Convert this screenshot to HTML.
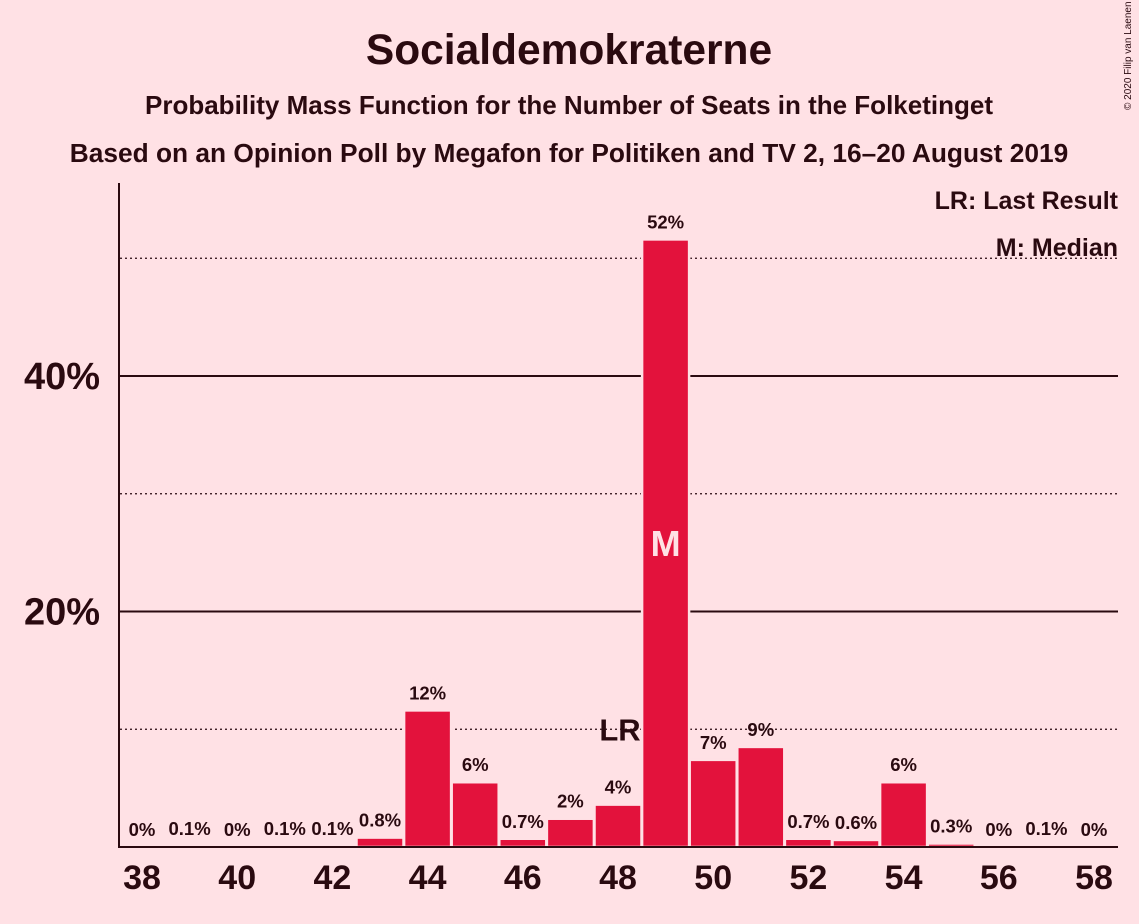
<!DOCTYPE html>
<html><head><meta charset="utf-8"><style>
body{margin:0;background:#ffe1e5;}
svg{display:block;font-family:"Liberation Sans",sans-serif;}
</style></head><body>
<svg id="chart" width="1139" height="924">
<rect width="1139" height="924" fill="#ffe1e5"/>
<text x="569" y="64" text-anchor="middle" font-size="42.5" font-weight="bold" fill="#2a0a10">Socialdemokraterne</text>
<text x="569" y="114" text-anchor="middle" font-size="26" font-weight="bold" fill="#2a0a10">Probability Mass Function for the Number of Seats in the Folketinget</text>
<text x="569" y="162" text-anchor="middle" font-size="26.3" font-weight="bold" fill="#2a0a10">Based on an Opinion Poll by Megafon for Politiken and TV 2, 16–20 August 2019</text>
<text x="1131" y="110" font-size="10" fill="#2a0a10" transform="rotate(-90 1131 110)">© 2020 Filip van Laenen</text>
<g id="grid"></g>
<g id="bars"></g>
<g id="axes"></g>
<text x="1118" y="209" text-anchor="end" font-size="25" font-weight="bold" fill="#2a0a10">LR: Last Result</text>
<text x="1118" y="256" text-anchor="end" font-size="25" font-weight="bold" fill="#2a0a10">M: Median</text>
</svg>
<script>
const seats=[38,39,40,41,42,43,44,45,46,47,48,49,50,51,52,53,54,55,56,57,58];
const probs=[0,0.1,0,0.1,0.1,0.8,11.6,5.5,0.7,2.4,3.6,51.6,7.4,8.5,0.7,0.6,5.5,0.3,0,0.1,0];
const valueLabels=["0%","0.1%","0%","0.1%","0.1%","0.8%","12%","6%","0.7%","2%","4%","52%","7%","9%","0.7%","0.6%","6%","0.3%","0%","0.1%","0%"];
const xTicks=[38,40,42,44,46,48,50,52,54,56,58];
const yTicks=[20,40];
const yMinor=[10,30,50];
const lastResult=48, median=49;
const NS="http://www.w3.org/2000/svg";
const x=s=>142+(s-38)*47.6;
const y=p=>847-p*11.775;
function mk(t,a,parent,txt){const e=document.createElementNS(NS,t);for(const k in a)e.setAttribute(k,a[k]);if(txt!==undefined)e.textContent=txt;parent.appendChild(e);return e;}
const grid=document.getElementById('grid'),bars=document.getElementById('bars'),axes=document.getElementById('axes');
yMinor.forEach(v=>{const l=mk('line',{x1:120,x2:1118,y1:y(v),y2:y(v),stroke:'#2a0a10','stroke-width':1.3,'stroke-dasharray':'2,3'},grid);

});
yTicks.forEach(v=>{const l=mk('line',{x1:120,x2:1118,y1:y(v),y2:y(v),stroke:'#2a0a10','stroke-width':2},grid);


const t=mk('text',{x:100,y:y(v)+13,'text-anchor':'end','font-size':38,'font-weight':'bold',fill:'#2a0a10'},axes,v+'%');

});
seats.forEach((s,i)=>{const p=probs[i];
const r=mk('rect',{x:x(s)-23.5,y:y(p),width:47,height:847-y(p),fill:'#e3123c',stroke:'#ffe1e5','stroke-width':2.5},bars);


const t=mk('text',{x:x(s),y:y(p)-11,'text-anchor':'middle','font-size':18.5,'font-weight':'bold',fill:'#2a0a10'},bars,valueLabels[i]);


if(s===median){const m=mk('text',{x:x(s),y:y(p/2)+13,'text-anchor':'middle','font-size':36,'font-weight':'bold',fill:'#ffe1e5'},bars,'M');

}
if(s===lastResult){const m=mk('text',{x:x(s)+2,y:y(10)+11,'text-anchor':'middle','font-size':31,'font-weight':'bold',fill:'#2a0a10'},bars,'LR');

}
});
const ya=mk('line',{x1:119,x2:119,y1:183,y2:848,stroke:'#2a0a10','stroke-width':2},axes);


const xa=mk('line',{x1:118,x2:1118,y1:847,y2:847,stroke:'#2a0a10','stroke-width':2},axes);


xTicks.forEach(s=>{const t=mk('text',{x:x(s),y:889,'text-anchor':'middle','font-size':34,'font-weight':'bold',fill:'#2a0a10'},axes,s);

});
</script>
</body></html>
